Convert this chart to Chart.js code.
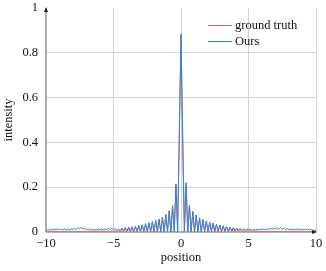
<!DOCTYPE html>
<html>
<head>
<meta charset="utf-8">
<script src="https://cdn.jsdelivr.net/npm/chart.js@4.4.1/dist/chart.umd.min.js"></script>
<style>
  html, body { margin: 0; padding: 0; background: #fff; }
  #wrap { width: 326px; height: 271px; }
</style>
</head>
<body>
<div id="wrap"><canvas id="myChart" width="326" height="271"></canvas></div>
<script>
// sample positions (step 0.125, -10 .. 10)
const positions = [
  -10, -9.875, -9.75, -9.625, -9.5, -9.375, -9.25, -9.125,
  -9, -8.875, -8.75, -8.625, -8.5, -8.375, -8.25, -8.125,
  -8, -7.875, -7.75, -7.625, -7.5, -7.375, -7.25, -7.125,
  -7, -6.875, -6.75, -6.625, -6.5, -6.375, -6.25, -6.125,
  -6, -5.875, -5.75, -5.625, -5.5, -5.375, -5.25, -5.125,
  -5, -4.875, -4.75, -4.625, -4.5, -4.375, -4.25, -4.125,
  -4, -3.875, -3.75, -3.625, -3.5, -3.375, -3.25, -3.125,
  -3, -2.875, -2.75, -2.625, -2.5, -2.375, -2.25, -2.125,
  -2, -1.875, -1.75, -1.625, -1.5, -1.375, -1.25, -1.125,
  -1, -0.875, -0.75, -0.625, -0.5, -0.375, -0.25, -0.125,
  0, 0.125, 0.25, 0.375, 0.5, 0.625, 0.75, 0.875,
  1, 1.125, 1.25, 1.375, 1.5, 1.625, 1.75, 1.875,
  2, 2.125, 2.25, 2.375, 2.5, 2.625, 2.75, 2.875,
  3, 3.125, 3.25, 3.375, 3.5, 3.625, 3.75, 3.875,
  4, 4.125, 4.25, 4.375, 4.5, 4.625, 4.75, 4.875,
  5, 5.125, 5.25, 5.375, 5.5, 5.625, 5.75, 5.875,
  6, 6.125, 6.25, 6.375, 6.5, 6.625, 6.75, 6.875,
  7, 7.125, 7.25, 7.375, 7.5, 7.625, 7.75, 7.875,
  8, 8.125, 8.25, 8.375, 8.5, 8.625, 8.75, 8.875,
  9, 9.125, 9.25, 9.375, 9.5, 9.625, 9.75, 9.875,
  10
];

const groundTruth = [
  0.001, 0.002, 0.001, 0.002, 0.001, 0.002, 0.001, 0.002,
  0.001, 0.002, 0.001, 0.002, 0.001, 0.002, 0.001, 0.002,
  0.001, 0.003, 0.001, 0.003, 0.001, 0.003, 0.001, 0.003,
  0.001, 0.003, 0.001, 0.004, 0.001, 0.004, 0.001, 0.004,
  0.001, 0.005, 0.001, 0.005, 0.001, 0.006, 0.001, 0.006,
  0.001, 0.007, 0.001, 0.008, 0, 0.013, 0, 0.015,
  0, 0.017, 0, 0.019, 0, 0.022, 0, 0.026,
  0, 0.030, 0, 0.035, 0, 0.040, 0, 0.045,
  0, 0.051, 0, 0.057, 0, 0.065, 0, 0.077,
  0, 0.094, 0, 0.117, 0, 0.212, 0, 0.46,
  0.88, 0.44, 0, 0.217, 0, 0.119, 0, 0.091,
  0, 0.075, 0, 0.063, 0, 0.055, 0, 0.048,
  0, 0.043, 0, 0.039, 0, 0.034, 0, 0.030,
  0, 0.026, 0, 0.022, 0, 0.019, 0, 0.016,
  0, 0.014, 0, 0.012, 0.001, 0.008, 0.001, 0.007,
  0.001, 0.006, 0.001, 0.006, 0.001, 0.005, 0.001, 0.005,
  0.001, 0.004, 0.001, 0.004, 0.001, 0.003, 0.001, 0.003,
  0.001, 0.003, 0.001, 0.003, 0.001, 0.002, 0.001, 0.002,
  0.001, 0.002, 0.001, 0.002, 0.001, 0.002, 0.001, 0.002,
  0.001, 0.002, 0.001, 0.002, 0.001, 0.002, 0.001, 0.002,
  0.001
];

const ours = [
  0.006, 0.010, 0.008, 0.012, 0.009, 0.013, 0.010, 0.014,
  0.011, 0.012, 0.009, 0.013, 0.010, 0.012, 0.009, 0.014,
  0.011, 0.016, 0.012, 0.019, 0.013, 0.021, 0.012, 0.017,
  0.010, 0.014, 0.009, 0.012, 0.008, 0.011, 0.009, 0.012,
  0.010, 0.013, 0.009, 0.014, 0.011, 0.016, 0.012, 0.017,
  0.011, 0.014, 0.008, 0.012, 0.007, 0.018, 0.006, 0.020,
  0.005, 0.022, 0.005, 0.024, 0.004, 0.026, 0.004, 0.030,
  0.003, 0.033, 0.003, 0.038, 0.002, 0.042, 0.002, 0.047,
  0.001, 0.052, 0.001, 0.058, 0.001, 0.066, 0.001, 0.078,
  0.001, 0.095, 0.001, 0.118, 0.001, 0.215, 0.002, 0.42,
  0.885, 0.40, 0.002, 0.22, 0.001, 0.12, 0.001, 0.092,
  0.001, 0.076, 0.001, 0.064, 0.001, 0.056, 0.002, 0.049,
  0.002, 0.044, 0.003, 0.040, 0.003, 0.035, 0.004, 0.031,
  0.004, 0.028, 0.005, 0.024, 0.005, 0.022, 0.006, 0.020,
  0.006, 0.018, 0.007, 0.016, 0.008, 0.012, 0.009, 0.013,
  0.010, 0.012, 0.008, 0.011, 0.009, 0.012, 0.010, 0.013,
  0.011, 0.014, 0.010, 0.015, 0.011, 0.016, 0.012, 0.018,
  0.013, 0.019, 0.012, 0.020, 0.013, 0.017, 0.011, 0.015,
  0.010, 0.013, 0.009, 0.012, 0.010, 0.014, 0.010, 0.013,
  0.009, 0.012, 0.010, 0.013, 0.009, 0.011, 0.008, 0.010,
  0.006
];

const xTicks = [-10, -5, 0, 5, 10];
const yTicks = [0, 0.2, 0.4, 0.6, 0.8, 1];
const seriesNames = ['ground truth', 'Ours'];

const RED = '#e9625d';
const BLUE = '#2f88d2';
const FONT = 'Liberation Serif';

const minus = v => (v < 0 ? '\u2212' + Math.abs(v) : String(v));

// axes with arrows + legend inside the plot
const decorations = {
  id: 'decorations',
  beforeDatasetsDraw(chart) {
    const { ctx, chartArea: a } = chart;
    ctx.save();
    ctx.strokeStyle = '#9a9a9a';
    ctx.lineWidth = 1.6;
    ctx.beginPath();
    ctx.moveTo(a.left, a.bottom);
    ctx.lineTo(a.left, a.top);
    ctx.moveTo(a.left, a.bottom);
    ctx.lineTo(a.right, a.bottom);
    ctx.stroke();
    ctx.restore();
  },
  afterDatasetsDraw(chart) {
    const { ctx, chartArea: a } = chart;
    ctx.save();
    ctx.fillStyle = '#222';
    ctx.beginPath();
    ctx.moveTo(a.left, a.top - 1);
    ctx.lineTo(a.left - 2, a.top + 4);
    ctx.lineTo(a.left + 2, a.top + 4);
    ctx.closePath();
    ctx.fill();
    ctx.beginPath();
    ctx.moveTo(a.right + 1, a.bottom);
    ctx.lineTo(a.right - 4, a.bottom - 2);
    ctx.lineTo(a.right - 4, a.bottom + 2);
    ctx.closePath();
    ctx.fill();

    const colors = [RED, BLUE];
    ctx.font = '12.5px "' + FONT + '"';
    ctx.textBaseline = 'middle';
    seriesNames.forEach((name, i) => {
      const y = 25 + i * 16;
      ctx.strokeStyle = colors[i];
      ctx.lineWidth = 1;
      ctx.beginPath();
      ctx.moveTo(208, y + 0.5);
      ctx.lineTo(232, y + 0.5);
      ctx.stroke();
      ctx.fillStyle = '#111';
      ctx.fillText(name, 235, y + 1);
    });
    ctx.restore();
  }
};

const data = {
  datasets: [
    {
      label: seriesNames[0],
      data: positions.map((x, i) => ({ x, y: groundTruth[i] })),
      borderColor: RED,
      borderWidth: 1,
      pointRadius: 0,
      order: 2,
    },
    {
      label: seriesNames[1],
      data: positions.map((x, i) => ({ x, y: ours[i] })),
      borderColor: BLUE,
      borderWidth: 1,
      pointRadius: 0,
      order: 1,
    }
  ]
};

const config = {
  type: 'line',
  data,
  plugins: [decorations],
  options: {
    responsive: false,
    devicePixelRatio: 1,
    animation: false,
    layout: { padding: { top: 8, right: 10, left: 0, bottom: 0 } },
    plugins: {
      legend: { display: false },
      tooltip: { enabled: false },
    },
    scales: {
      x: {
        type: 'linear',
        min: -10,
        max: 10,
        afterBuildTicks: s => { s.ticks = xTicks.map(v => ({ value: v })); },
        afterFit: s => { s.height = 39; s.paddingLeft = 0; s.paddingRight = 0; },
        border: { display: false },
        grid: {
          drawTicks: false,
          color: c => (c.tick && c.tick.value === -10 ? 'rgba(0,0,0,0)' : '#d2d2d2'),
          lineWidth: 1,
        },
        ticks: {
          padding: 4,
          color: '#111',
          font: { family: FONT, size: 12.5 },
          callback: v => minus(v),
        },
        title: {
          display: true,
          text: 'position',
          color: '#111',
          font: { family: FONT, size: 12.5 },
          padding: { top: 0, bottom: 6 },
        }
      },
      y: {
        type: 'linear',
        min: 0,
        max: 1,
        afterBuildTicks: s => { s.ticks = yTicks.map(v => ({ value: v })); },
        afterFit: s => { s.width = 46; s.paddingTop = 0; s.paddingBottom = 0; },
        border: { display: false },
        grid: {
          drawTicks: false,
          color: c => (c.tick && (c.tick.value === 0 || c.tick.value === 1) ? 'rgba(0,0,0,0)' : '#d2d2d2'),
          lineWidth: 1,
        },
        ticks: {
          padding: 8,
          color: '#111',
          font: { family: FONT, size: 12.5 },
          callback: v => String(Math.round(v * 10) / 10),
        },
        title: {
          display: true,
          text: 'intensity',
          color: '#111',
          font: { family: FONT, size: 12.5 },
          padding: { top: 1, bottom: 0 },
        }
      }
    }
  }
};

const myChart = new Chart(document.getElementById('myChart'), config);
</script>
</body>
</html>
